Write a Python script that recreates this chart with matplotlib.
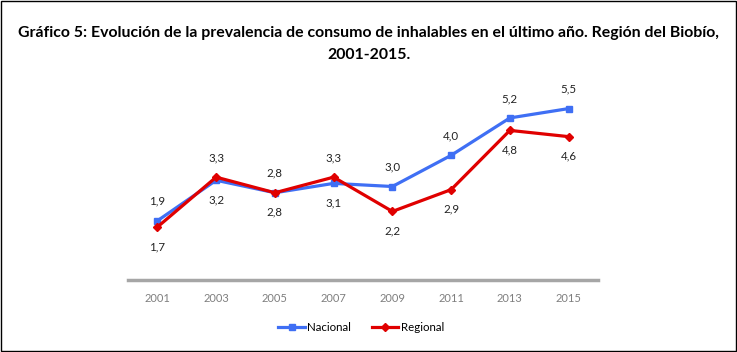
import matplotlib
matplotlib.use("Agg")
import matplotlib.pyplot as plt
from matplotlib.patches import Rectangle

years = ["2001", "2003", "2005", "2007", "2009", "2011", "2013", "2015"]
nacional = [1.9, 3.2, 2.8, 3.1, 3.0, 4.0, 5.2, 5.5]
regional = [1.7, 3.3, 2.8, 3.3, 2.2, 2.9, 4.8, 4.6]

BLUE = "#3F6FF4"
RED = "#E00000"

plt.rcParams["font.family"] = ["Lato", "DejaVu Sans"]

fig = plt.figure(figsize=(7.37, 3.52), dpi=100)
ax = fig.add_axes([0.1737, 0.2045, 0.6377, 0.5313])

x = list(range(len(years)))
ax.plot(x, nacional, color=BLUE, lw=2.3, marker="s", ms=4.5, label="Nacional", zorder=3)
ax.plot(x, regional, color=RED, lw=2.3, marker="D", ms=4.5, label="Regional", zorder=4)

# etiquetas: la serie mas alta arriba, la otra abajo
for i, (n, r) in enumerate(zip(nacional, regional)):
    n_up = n >= r
    ax.annotate(f"{n:.1f}".replace(".", ","), (i, n), xytext=(0, 14 if n_up else -14),
                textcoords="offset points", ha="center", va="center", fontsize=8.3, color="#222222")
    ax.annotate(f"{r:.1f}".replace(".", ","), (i, r), xytext=(0, -14 if n_up else 14),
                textcoords="offset points", ha="center", va="center", fontsize=8.3, color="#222222")

ax.set_xlim(-0.5, len(years) - 0.5)
ax.set_ylim(0, 6)
ax.set_xticks(x)
ax.set_xticklabels(years, fontsize=8, color="#7F7F7F")
ax.set_yticks([])
for s in ["top", "right", "left"]:
    ax.spines[s].set_visible(False)
ax.spines["bottom"].set_color("#A6A6A6")
ax.spines["bottom"].set_linewidth(2.5)
ax.tick_params(axis="x", length=0, pad=9)

fig.text(0.5, 0.905, "Gráfico 5: Evolución de la prevalencia de consumo de inhalables en el último año. Región del Biobío,",
         ha="center", va="center", fontsize=11.4, fontweight="bold")
fig.text(0.5, 0.843, "2001-2015.", ha="center", va="center", fontsize=11.4, fontweight="bold")

fig.legend(loc="center", bbox_to_anchor=(0.49, 0.07), ncol=2, frameon=False, fontsize=8.3,
           handlelength=2.3, columnspacing=1.8, handletextpad=0.2)

fig.patches.append(Rectangle((0.001, 0.002), 0.997, 0.996, transform=fig.transFigure,
                             fill=False, edgecolor="black", lw=1))

fig.savefig("out.png", dpi=100)
